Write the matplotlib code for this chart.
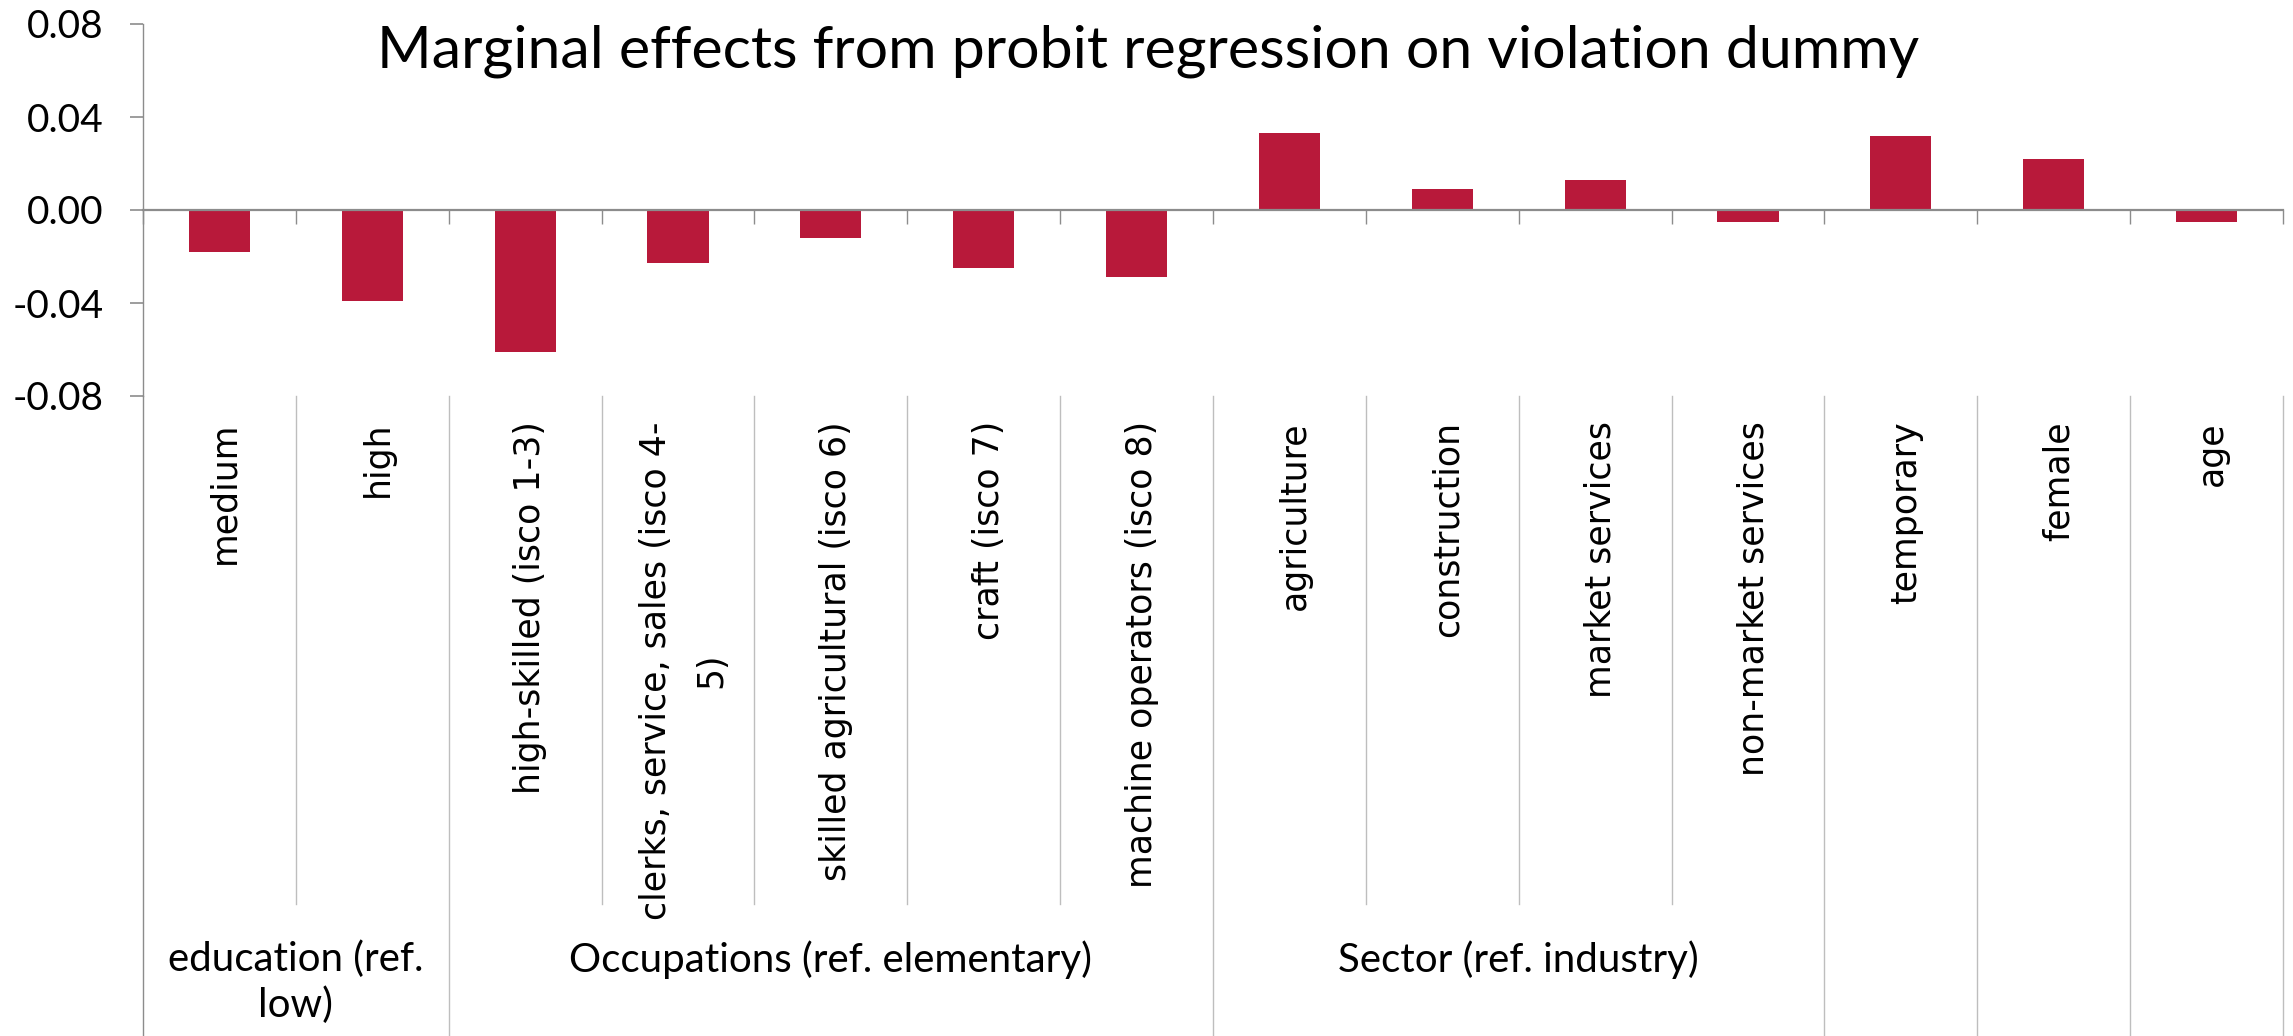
import matplotlib
matplotlib.use("Agg")
import matplotlib.pyplot as plt
import matplotlib.transforms as mtransforms

# Dados do gráfico
categories = [
    "medium",
    "high",
    "high-skilled (isco 1-3)",
    "clerks, service, sales (isco 4-\n5)",
    "skilled agricultural (isco 6)",
    "craft (isco 7)",
    "machine operators (isco 8)",
    "agriculture",
    "construction",
    "market services",
    "non-market services",
    "temporary",
    "female",
    "age",
]
effects = [-0.018, -0.039, -0.061, -0.023, -0.012, -0.025, -0.029,
           0.033, 0.009, 0.013, -0.005, 0.032, 0.022, -0.005]
group_names = ["education (ref.\nlow)", "Occupations (ref. elementary)",
               "Sector (ref. industry)", "", "", ""]
group_sizes = [2, 5, 4, 1, 1, 1]
y_ticks = [-0.08, -0.04, 0.00, 0.04, 0.08]
y_tick_labels = ["-0.08", "-0.04", "0.00", "0.04", "0.08"]

BAR_COLOR = "#B8193A"
AXIS_GRAY = "#8C8C8C"
SEP_GRAY = "#BEBEBE"

W, H = 2293, 1036
fig = plt.figure(figsize=(W / 100, H / 100), dpi=100)

# area do gráfico (em pixels da imagem)
left, right, top, bottom = 143, 2283, 24, 396
ax = fig.add_axes([left / W, 1 - bottom / H, (right - left) / W, (bottom - top) / H])

n = len(categories)
x = list(range(n))
ax.bar(x, effects, width=0.4, color=BAR_COLOR, zorder=3)

ax.set_xlim(-0.5, n - 0.5)
ax.set_ylim(-0.08, 0.08)

for side in ["top", "right"]:
    ax.spines[side].set_visible(False)
ax.spines["left"].set_color(AXIS_GRAY)
ax.spines["left"].set_linewidth(1.0)
ax.spines["bottom"].set_position(("data", 0))
ax.spines["bottom"].set_color(AXIS_GRAY)
ax.spines["bottom"].set_linewidth(1.6)
ax.spines["bottom"].set_zorder(4)

ax.set_xticks([i - 0.5 for i in range(n + 1)])
ax.set_xticklabels([])
ax.tick_params(axis="x", direction="out", length=10, width=1, color=AXIS_GRAY)

ax.set_yticks(y_ticks)
ax.set_yticklabels(y_tick_labels, fontsize=28, family="Lato")
ax.tick_params(axis="y", direction="out", length=9.5, width=1.2, color=AXIS_GRAY, pad=19)

# transformação: x em dados, y em fração da figura
trans = mtransforms.blended_transform_factory(ax.transData, fig.transFigure)

y_plot_bottom = 1 - bottom / H
y_sep_short = 1 - 904 / H

# separadores entre categorias
boundaries_long = [0]
acc = 0
for size in group_sizes:
    acc += size
    boundaries_long.append(acc)
for b in range(n + 1):
    y_end = 0 if b in boundaries_long else y_sep_short
    ax.plot([b - 0.5, b - 0.5], [y_plot_bottom, y_end], transform=trans,
            color=SEP_GRAY if b != 0 else AXIS_GRAY, lw=1.0, clip_on=False)

# rótulos das categorias (rotacionados)
for i, label in enumerate(categories):
    ax.text(i + 0.035, 1 - 421 / H, label, transform=trans, rotation=90,
            ha="center", va="top", multialignment="center", linespacing=1.8,
            fontsize=25, family="DejaVu Sans", color="black")

# rótulos dos grupos
start = 0
for name, size in zip(group_names, group_sizes):
    if name:
        center = start + size / 2 - 0.5
        ax.text(center, 1 - 940 / H, name, transform=trans, ha="center", va="top",
                fontsize=29, family="Lato", linespacing=1.3)
    start += size

fig.text(0.5007, 1 - 51 / H, "Marginal effects from probit regression on violation dummy",
         ha="center", va="center", fontsize=42.5, family="Lato")

fig.savefig("out.png", dpi=100)
